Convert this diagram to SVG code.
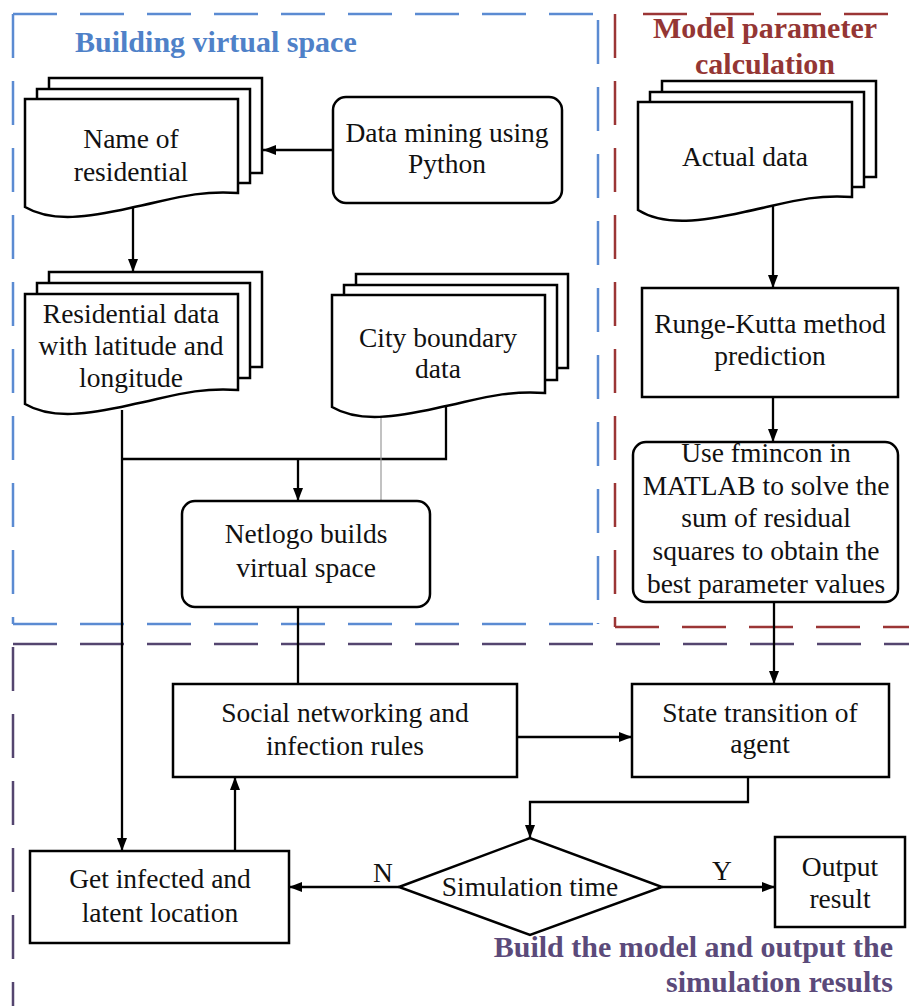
<svg xmlns="http://www.w3.org/2000/svg" width="909" height="1006" viewBox="0 0 909 1006">
<style>
.bg{fill:#ffffff}
.node{fill:#ffffff;stroke:#000;stroke-width:2.5}
.t{font-family:"Liberation Serif","Times New Roman",serif;font-size:27.5px;fill:#111;text-anchor:middle}
.title{font-family:"Liberation Serif","Times New Roman",serif;font-size:30px;font-weight:bold}
.conn{fill:none;stroke:#000;stroke-width:2.3}
.thin{fill:none;stroke:#999;stroke-width:1.2}
.dash{fill:none;stroke-width:2.5;stroke-dasharray:44 23}
.blue{stroke:#5b8bd2}
.red{stroke:#9b3535}
.purple{stroke:#54456f}
.lbl{font-family:"Liberation Serif","Times New Roman",serif;font-size:27.5px;fill:#111;text-anchor:middle}
</style>
<defs>
<marker id="ah" viewBox="0 0 13 10" refX="13" refY="5" markerWidth="13" markerHeight="10" markerUnits="userSpaceOnUse" orient="auto"><path d="M0,0 L13,5 L0,10 z" fill="#000"/></marker>
</defs>
<rect class="bg" x="0" y="0" width="909" height="1006"/>

<g id="regions">
<g id="region-virtual-space">
<path class="dash blue" d="M13,14 H598"/>
<path class="dash blue" d="M13,14 V624"/>
<path class="dash blue" d="M598,20 V624"/>
<path class="dash blue" d="M13,624 H598"/>
<text class="title" x="75" y="52" fill="#4f81c8">Building virtual space</text>
</g>
<g id="region-model-param">
<path class="dash red" d="M643,14 H909"/>
<path class="dash red" d="M615,14 V627"/>
<path class="dash red" d="M615,627 H909"/>
<text class="title" x="765" y="38" fill="#943634" text-anchor="middle">Model parameter</text>
<text class="title" x="765" y="74" fill="#943634" text-anchor="middle">calculation</text>
</g>
<g id="region-build-model">
<path class="dash purple" d="M13,644 H909"/>
<path class="dash purple" d="M13,647 V1006"/>
<text class="title" x="893" y="957" fill="#5b4a7a" text-anchor="end">Build the model and output the</text>
<text class="title" x="893" y="992" fill="#5b4a7a" text-anchor="end">simulation results</text>
</g>
</g>

<g id="connectors">
<path class="conn" d="M333,150 H263" marker-end="url(#ah)"/>
<path class="conn" d="M133,206 V272" marker-end="url(#ah)"/>
<path class="conn" d="M122,410 V851" marker-end="url(#ah)"/>
<path class="conn" d="M122,459 H446 V402"/>
<path class="conn" d="M298,459 V501" marker-end="url(#ah)"/>
<path class="thin" d="M381,414 V501"/>
<path class="conn" d="M298,607 V684"/>
<path class="conn" d="M773,205 V288" marker-end="url(#ah)"/>
<path class="conn" d="M773,397 V442" marker-end="url(#ah)"/>
<path class="conn" d="M774,602 V684" marker-end="url(#ah)"/>
<path class="conn" d="M517,737 H632" marker-end="url(#ah)"/>
<path class="conn" d="M748,777 V802 H530 V838" marker-end="url(#ah)"/>
<path class="conn" d="M235,851 V777" marker-end="url(#ah)"/>
<path class="conn" d="M399,887 H289" marker-end="url(#ah)"/>
<path class="conn" d="M662,887 H775" marker-end="url(#ah)"/>
<text class="lbl" x="383" y="882">N</text>
<text class="lbl" x="722" y="880">Y</text>
</g>

<g id="node-name-residential">
<rect class="node" x="49" y="78" width="213" height="95"/>
<rect class="node" x="37" y="89" width="213" height="94"/>
<path class="node" d="M25,99 H238 V193 C195,190 170,200 130,208 C90,217 52,223 25,207 Z"/>
<text class="t" x="131" y="148">Name of</text>
<text class="t" x="131" y="181">residential</text>
</g>

<g id="node-data-mining">
<rect class="node" x="333" y="97" width="229" height="106" rx="13"/>
<text class="t" x="447" y="142">Data mining using</text>
<text class="t" x="447" y="173">Python</text>
</g>

<g id="node-residential-data">
<rect class="node" x="49" y="272" width="213" height="95"/>
<rect class="node" x="37" y="283" width="213" height="95"/>
<path class="node" d="M25,294 H238 V390 C195,387 170,397 130,405 C90,414 52,420 25,404 Z"/>
<text class="t" x="131" y="323">Residential data</text>
<text class="t" x="131" y="355">with latitude and</text>
<text class="t" x="131" y="387">longitude</text>
</g>

<g id="node-city-boundary">
<rect class="node" x="356" y="274" width="212" height="94"/>
<rect class="node" x="344" y="285" width="213" height="95"/>
<path class="node" d="M332,295 H545 V393 C502,390 477,400 437,408 C397,417 359,423 332,407 Z"/>
<text class="t" x="438" y="347">City boundary</text>
<text class="t" x="438" y="378">data</text>
</g>

<g id="node-netlogo">
<rect class="node" x="182" y="501" width="248" height="106" rx="13"/>
<text class="t" x="306" y="543">Netlogo builds</text>
<text class="t" x="306" y="577">virtual space</text>
</g>

<g id="node-actual-data">
<rect class="node" x="662" y="81" width="214" height="96"/>
<rect class="node" x="650" y="92" width="214" height="95"/>
<path class="node" d="M638,102 H852 V197 C809,194 784,204 744,212 C704,221 665,227 638,210 Z"/>
<text class="t" x="745" y="166">Actual data</text>
</g>

<g id="node-runge-kutta">
<rect class="node" x="642" y="288" width="256" height="109"/>
<text class="t" x="770" y="333">Runge-Kutta method</text>
<text class="t" x="770" y="365">prediction</text>
</g>

<g id="node-fmincon">
<rect class="node" x="633" y="442" width="265" height="160" rx="13"/>
<text class="t" x="766" y="462">Use fmincon in</text>
<text class="t" x="766" y="495">MATLAB to solve the</text>
<text class="t" x="766" y="527">sum of residual</text>
<text class="t" x="766" y="560">squares to obtain the</text>
<text class="t" x="766" y="593">best parameter values</text>
</g>

<g id="node-social">
<rect class="node" x="173" y="684" width="344" height="93"/>
<text class="t" x="345" y="722">Social networking and</text>
<text class="t" x="345" y="755">infection rules</text>
</g>

<g id="node-state">
<rect class="node" x="632" y="684" width="257" height="93"/>
<text class="t" x="760" y="722">State transition of</text>
<text class="t" x="760" y="753">agent</text>
</g>

<g id="node-get-infected">
<rect class="node" x="30" y="851" width="259" height="92"/>
<text class="t" x="160" y="888">Get infected and</text>
<text class="t" x="160" y="922">latent location</text>
</g>

<g id="node-simulation-time">
<path class="node" d="M399,887 L530,838 L662,887 L530,935 Z"/>
<text class="t" x="530" y="896">Simulation time</text>
</g>

<g id="node-output">
<rect class="node" x="775" y="837" width="130" height="90"/>
<text class="t" x="840" y="876">Output</text>
<text class="t" x="840" y="908">result</text>
</g>
</svg>
